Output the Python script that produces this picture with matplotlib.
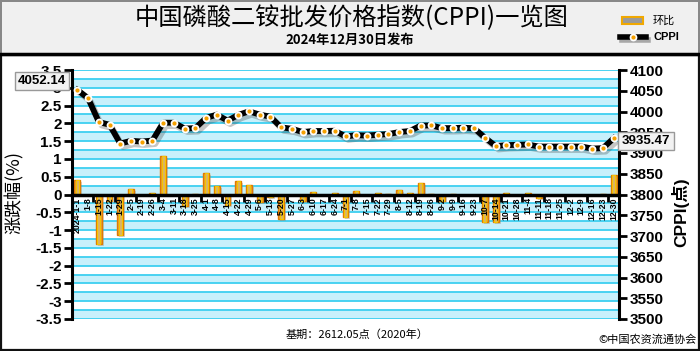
import matplotlib
matplotlib.use('Agg')
import matplotlib.pyplot as plt
import matplotlib.patheffects as pe
import matplotlib.transforms as mtransforms
from matplotlib.patches import Rectangle
from matplotlib.lines import Line2D
import numpy as np

categories = ['2024-1-1', '1-8', '1-15', '1-22', '1-29', '2-5', '2-19', '2-26',
              '3-4', '3-11', '3-18', '3-25', '4-1', '4-8', '4-15', '4-22', '4-29',
              '5-6', '5-13', '5-20', '5-27', '6-3', '6-10', '6-17', '6-24',
              '7-1', '7-8', '7-15', '7-22', '7-29', '8-5', '8-12', '8-19', '8-26',
              '9-2', '9-9', '9-16', '9-23', '10-7', '10-14', '10-21', '10-28',
              '11-4', '11-11', '11-18', '11-25', '12-2', '12-9', '12-16', '12-23', '12-30']

change_pct = [0.42, np.nan, -1.40, -0.18, -1.13, 0.16, 0.0, 0.05,
              1.07, 0.0, -0.32, 0.01, 0.60, 0.24, -0.30, 0.38, 0.26,
              -0.21, -0.08, -0.69, 0.0, -0.17, 0.07, 0.0, 0.03,
              -0.62, 0.09, 0.0, 0.04, 0.02, 0.12, 0.04, 0.32, 0.02,
              -0.17, 0.01, 0.0, 0.0, -0.78, -0.76, 0.04, 0.0,
              0.05, -0.10, 0.0, 0.0, 0.0, 0.0, -0.01, 0.01, 0.55]

cppi = [4052.14, 4032.0, 3974.8, 3968.0, 3922.8, 3929.4, 3927.7, 3930.0,
        3973.0, 3973.0, 3959.0, 3960.0, 3984.5, 3992.5, 3978.0, 3991.7, 4000.5,
        3992.5, 3987.6, 3961.7, 3958.5, 3950.5, 3953.0, 3953.0, 3953.7,
        3940.0, 3943.0, 3942.0, 3944.0, 3945.6, 3950.5, 3953.0, 3966.0, 3966.5,
        3960.0, 3960.0, 3961.0, 3959.5, 3937.0, 3916.8, 3919.0, 3919.7,
        3920.5, 3915.6, 3915.6, 3915.6, 3915.6, 3915.6, 3910.7, 3911.7, 3935.47]

left_ticks = [3.5, 3, 2.5, 2, 1.5, 1, 0.5, 0, -0.5, -1, -1.5, -2, -2.5, -3, -3.5]
right_ticks = [4100, 4050, 4000, 3950, 3900, 3850, 3800, 3750, 3700, 3650, 3600, 3550, 3500]

title = '中国磷酸二铵批发价格指数(CPPI)一览图'
subtitle = '2024年12月30日发布'
base_text = '基期：2612.05点（2020年）'
copyright_text = '©中国农资流通协会'

CJK = ['Noto Sans CJK SC', 'DejaVu Sans']
NUM = ['Liberation Sans', 'Noto Sans CJK SC', 'DejaVu Sans']

W, H = 700, 351
fig = plt.figure(figsize=(W / 100, H / 100), dpi=100)
fig.patch.set_facecolor('#f0f0f0')
fig.patch.set_edgecolor('#888888')
fig.patch.set_linewidth(1.5)

# white panel
fig.add_artist(Rectangle((0.002, 0.004), 0.996, (H - 55) / H - 0.004, transform=fig.transFigure,
                         facecolor='white', edgecolor='#111111', lw=1.6, zorder=0))
fig.add_artist(Line2D([0, 1], [1 - 54 / H, 1 - 54 / H], transform=fig.transFigure,
                      color='black', lw=2.5, zorder=1))

ax = fig.add_axes([72 / W, (H - 319) / H, 547 / W, 249 / H])
ax.set_zorder(2)
ax.patch.set_visible(False)
ax.set_axisbelow(False)
ax2 = ax.twinx()
ax2.set_zorder(3)
ax2.patch.set_visible(False)

n = len(categories)
x = np.arange(n)
ax.set_xlim(-0.5, n - 0.5)
ax.set_ylim(-3.5, 3.5)
ax2.set_ylim(3500, 4100)

# bands and grid
edges = np.arange(3.5, -3.5 - 0.001, -0.25)
for k in range(len(edges) - 1):
    if k % 2 == 1:
        ax.axhspan(edges[k + 1], edges[k], color='#c8f0fb', lw=0, zorder=0)
for e in edges:
    ax.axhline(e, color='#3dcff0', lw=1.3, zorder=0.5)

# bars
vals = np.array(change_pct, dtype=float)
shadow_tr = mtransforms.offset_copy(ax.transData, fig=fig, x=2, y=-2, units='dots')
sh = ax.bar(x, vals, width=0.55, color='#888888', alpha=0.35, lw=0, zorder=1)
for p in sh:
    p.set_transform(shadow_tr)
ax.bar(x, vals, width=0.55, facecolor='#e6a23a', edgecolor='#e07a00', lw=1.0, zorder=1.6)
ax.bar(x, vals, width=0.28, facecolor='#d8b46a', edgecolor='#f5c400', lw=0.8, zorder=1.7)

# line
ax2.plot(x, cppi, color='black', lw=4.2, solid_joinstyle='round', zorder=3,
         path_effects=[pe.SimpleLineShadow(offset=(2, -2.5), shadow_color='#404040', alpha=0.3),
                       pe.Normal()])
ax2.plot(x, cppi, 'o', ms=4.6, mfc='white', mec='white', zorder=4)
ax2.plot(x, cppi, 'o', ms=2.0, mfc='#f5a000', mec='#f5a000', zorder=5)

# spines
for s in ['top', 'right']:
    ax.spines[s].set_visible(False)
ax.spines['bottom'].set_position(('data', 0))
ax.spines['bottom'].set_linewidth(2.5)
ax.spines['left'].set_linewidth(2.2)
for s in ['top', 'left', 'bottom']:
    ax2.spines[s].set_visible(False)
ax2.spines['right'].set_linewidth(2.2)

# x ticks
ax.set_xticks(x)
ax.set_xticklabels(categories, rotation=90, fontsize=6.3, fontweight='bold', family=NUM)
ax.tick_params(axis='x', which='major', length=0, pad=2)
ax.set_xticks(np.arange(1.5, n - 1, 2), minor=True)
ax.tick_params(axis='x', which='minor', length=5, width=2, color='black', direction='out')

ax.set_yticks(left_ticks)
ax.set_yticklabels([f'{v:g}' for v in left_ticks], fontsize=11, fontweight='bold', family=NUM)
ax.tick_params(axis='y', length=6, width=2, pad=1.5)
ax2.set_yticks(right_ticks)
ax2.set_yticklabels([str(v) for v in right_ticks], fontsize=11, fontweight='bold', family=NUM)
ax2.tick_params(axis='y', length=6, width=2, pad=1.5)

# axis labels
fig.text(14 / W, 1 - 192 / H, '涨跌幅(%)', rotation=90, ha='center', va='center',
         fontsize=13, family=CJK)
fig.text(680 / W, 1 - 212 / H, 'CPPI(点)', rotation=90, ha='center', va='center',
         fontsize=12.5, fontweight='bold', family=NUM)

# header
fig.text(352 / W, 1 - 18 / H, title, ha='center', va='center', fontsize=17.5, family=CJK)
fig.text(350 / W, 1 - 40 / H, subtitle, ha='center', va='center', fontsize=9.5,
         fontweight='bold', family=CJK)

# legend
fig.add_artist(Rectangle((622 / W, 1 - 24 / H), 21 / W, 7 / H, transform=fig.transFigure,
                         facecolor='#9a9a9a', edgecolor='#f0a800', lw=1.5, zorder=5))
fig.add_artist(Line2D([620 / W, 646 / W], [1 - 37 / H, 1 - 37 / H], transform=fig.transFigure,
                      color='black', lw=4, zorder=5,
                      path_effects=[pe.SimpleLineShadow(offset=(1.5, -2), alpha=0.3), pe.Normal()]))
fig.add_artist(Line2D([633 / W], [1 - 37 / H], transform=fig.transFigure, marker='o',
                      ms=4.6, mfc='white', mec='white', zorder=6))
fig.add_artist(Line2D([633 / W], [1 - 37 / H], transform=fig.transFigure, marker='o',
                      ms=2.0, mfc='#f5a000', mec='#f5a000', zorder=7))
fig.text(653 / W, 1 - 21 / H, '环比', ha='left', va='center', fontsize=8, family=CJK)
fig.text(653 / W, 1 - 37 / H, 'CPPI', ha='left', va='center', fontsize=8,
         fontweight='bold', family=NUM)

# value callouts (they sit over tick labels, as in the reference)
box = dict(boxstyle='square,pad=0.25', facecolor='#f2f2f2', edgecolor='#999999', lw=1)
fig.text(42 / W, 1 - 81 / H, '4052.14', ha='center', va='center', fontsize=9.5,
         fontweight='bold', family=NUM, bbox=box, zorder=10)
fig.text(646 / W, 1 - 141 / H, '3935.47', ha='center', va='center', fontsize=9.5,
         fontweight='bold', family=NUM, bbox=box, zorder=10)

# footer
fig.text(357 / W, 1 - 335 / H, base_text, ha='center', va='center', fontsize=8, family=CJK)
fig.text(697 / W, 1 - 340 / H, copyright_text, ha='right', va='center', fontsize=8, family=CJK)

fig.savefig('out.png', dpi=100, facecolor=fig.get_facecolor(), edgecolor=fig.get_edgecolor())
